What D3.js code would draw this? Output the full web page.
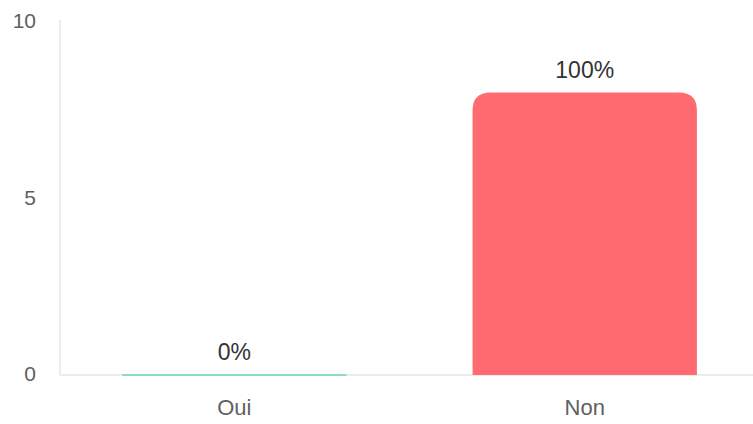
<!DOCTYPE html>
<html>
<head>
<meta charset="utf-8">
<script src="https://cdn.jsdelivr.net/npm/d3@7"></script>
<style>
  body { margin: 0; background: #fff; }
  svg { display: block; font-family: "Liberation Sans", Arial, sans-serif; }
</style>
</head>
<body>
<div id="chart"></div>
<script>
const categories = ["Oui", "Non"];
const values = [0, 8];
const percents = ["0%", "100%"];
const colors = ["#6fd3bd", "#ff6b70"];
const yTicks = [0, 5, 10];

const dims = { width: 753, height: 424, left: 60, top: 22, baseline: 375 };

const svg = d3.select("#chart")
  .append("svg")
    .attr("width", dims.width)
    .attr("height", dims.height);

const xScale = d3.scaleBand()
  .domain(categories)
  .range([59, 760])
  .paddingInner(0.36)
  .paddingOuter(0.18);

const yScale = d3.scaleLinear()
  .domain([0, 10])
  .range([dims.baseline, dims.top]);

// left axis line
svg.append("line")
  .attr("x1", dims.left).attr("x2", dims.left)
  .attr("y1", yScale(10) - 2).attr("y2", yScale(0))
  .attr("stroke", "#e6e6e6")
  .attr("stroke-width", 1.5);

// baseline
svg.append("line")
  .attr("x1", dims.left).attr("x2", dims.width)
  .attr("y1", yScale(0)).attr("y2", yScale(0))
  .attr("stroke", "#e6e6e6")
  .attr("stroke-width", 1.5);

// y tick labels
svg.selectAll("text.ytick")
  .data(yTicks)
  .join("text")
    .attr("class", "ytick")
    .attr("x", 36)
    .attr("y", d => yScale(d))
    .attr("dy", "0.3em")
    .attr("text-anchor", "end")
    .attr("fill", "#606060")
    .attr("font-size", 21)
    .text(d => d);

// bars with rounded tops
const r = 18;
function barPath(x, w, y0, y1) {
  const h = y0 - y1;
  const rr = Math.min(r, h, w / 2);
  if (h <= 0) return `M${x},${y0}H${x + w}`;
  return `M${x},${y0}V${y1 + rr}Q${x},${y1} ${x + rr},${y1}H${x + w - rr}Q${x + w},${y1} ${x + w},${y1 + rr}V${y0}Z`;
}

const data = categories.map((c, i) => ({ cat: c, value: values[i], pct: percents[i], color: colors[i] }));

svg.selectAll("path.bar")
  .data(data)
  .join("path")
    .attr("class", "bar")
    .attr("d", d => barPath(xScale(d.cat), xScale.bandwidth(), yScale(0), yScale(d.value)))
    .attr("fill", d => d.color)
    .attr("stroke", d => d.value === 0 ? d.color : "none")
    .attr("stroke-width", 1.5);

// value labels
svg.selectAll("text.val")
  .data(data)
  .join("text")
    .attr("class", "val")
    .attr("x", d => xScale(d.cat) + xScale.bandwidth() / 2)
    .attr("y", d => yScale(d.value) - 15)
    .attr("text-anchor", "middle")
    .attr("fill", "#333")
    .attr("font-size", 23)
    .text(d => d.pct);

// category labels
svg.selectAll("text.cat")
  .data(data)
  .join("text")
    .attr("class", "cat")
    .attr("x", d => xScale(d.cat) + xScale.bandwidth() / 2)
    .attr("y", 415)
    .attr("text-anchor", "middle")
    .attr("fill", "#606060")
    .attr("font-size", 22)
    .text(d => d.cat);
</script>
</body>
</html>
